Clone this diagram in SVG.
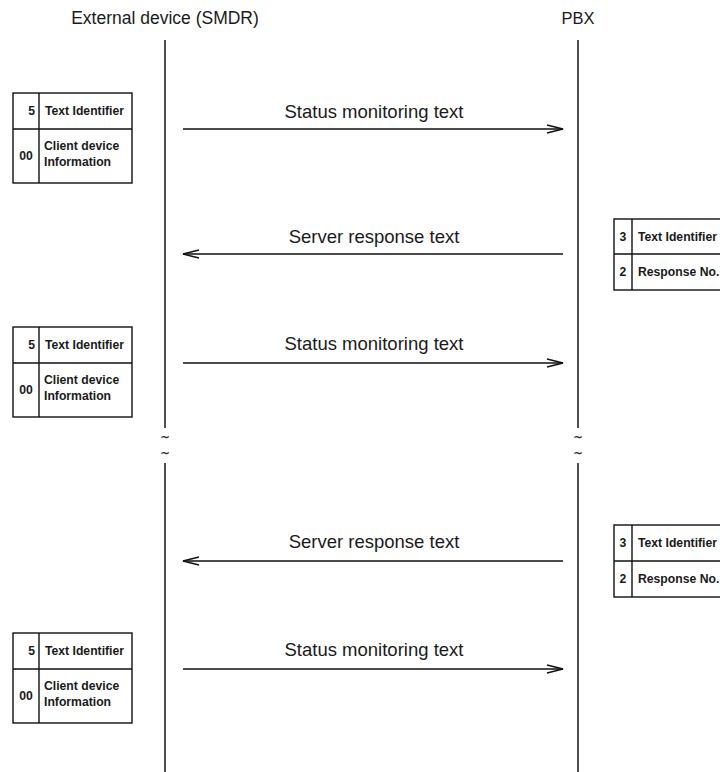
<svg xmlns="http://www.w3.org/2000/svg" width="720" height="772" viewBox="0 0 720 772">
<style>
.hdr{font-family:"Liberation Sans",Arial,sans-serif;font-size:17.5px;fill:#1a1a1a}
.pbx{font-family:"Liberation Sans",Arial,sans-serif;font-size:16.5px;fill:#1a1a1a}
.lbl{font-family:"Liberation Sans",Arial,sans-serif;font-size:18.5px;fill:#1a1a1a}
.cell{font-family:"Liberation Sans",Arial,sans-serif;font-size:12.2px;font-weight:bold;fill:#1a1a1a}
.brk{font-family:"DejaVu Sans",sans-serif;font-size:12px;font-weight:bold;fill:#333}
.box{fill:#fff;stroke:#111;stroke-width:1.4}
.ln{stroke:#111;stroke-width:1.4;fill:none}
.life{stroke:#222;stroke-width:1.6;fill:none}
.msg{stroke:#111;stroke-width:1.4;fill:none}
</style>
<rect width="720" height="772" fill="#fff"/>
<g id="lifeline-external">
<text class="hdr" x="165" y="24" text-anchor="middle">External device (SMDR)</text>
<line class="life" x1="165" y1="40" x2="165" y2="428"/>
<text class="brk" x="165" y="441" text-anchor="middle">~</text>
<text class="brk" x="165" y="457" text-anchor="middle">~</text>
<line class="life" x1="165" y1="463" x2="165" y2="772"/>
</g>
<g id="lifeline-pbx">
<text class="pbx" x="578" y="24" text-anchor="middle">PBX</text>
<line class="life" x1="578" y1="40" x2="578" y2="428"/>
<text class="brk" x="578" y="441" text-anchor="middle">~</text>
<text class="brk" x="578" y="457" text-anchor="middle">~</text>
<line class="life" x1="578" y1="463" x2="578" y2="772"/>
</g>
<g id="table-client-1">
<rect class="box" x="13" y="93" width="119" height="90"/>
<line class="ln" x1="39" y1="93" x2="39" y2="183"/>
<line class="ln" x1="13" y1="129" x2="132" y2="129"/>
<text class="cell" x="35" y="115" text-anchor="end">5</text>
<text class="cell" x="45" y="115">Text Identifier</text>
<text class="cell" x="26" y="160" text-anchor="middle">00</text>
<text class="cell" x="44" y="150">Client device</text>
<text class="cell" x="44" y="166">Information</text>
</g>
<g id="table-server-1">
<rect class="box" x="614" y="219" width="116" height="71"/>
<line class="ln" x1="632" y1="219" x2="632" y2="290"/>
<line class="ln" x1="614" y1="254" x2="730" y2="254"/>
<text class="cell" x="623" y="241" text-anchor="middle">3</text>
<text class="cell" x="638" y="241">Text Identifier</text>
<text class="cell" x="623" y="276" text-anchor="middle">2</text>
<text class="cell" x="638" y="276">Response No.</text>
</g>
<g id="table-client-2">
<rect class="box" x="13" y="327" width="119" height="90"/>
<line class="ln" x1="39" y1="327" x2="39" y2="417"/>
<line class="ln" x1="13" y1="363" x2="132" y2="363"/>
<text class="cell" x="35" y="349" text-anchor="end">5</text>
<text class="cell" x="45" y="349">Text Identifier</text>
<text class="cell" x="26" y="394" text-anchor="middle">00</text>
<text class="cell" x="44" y="384">Client device</text>
<text class="cell" x="44" y="400">Information</text>
</g>
<g id="table-server-2">
<rect class="box" x="614" y="525" width="116" height="72"/>
<line class="ln" x1="632" y1="525" x2="632" y2="597"/>
<line class="ln" x1="614" y1="561" x2="730" y2="561"/>
<text class="cell" x="623" y="547" text-anchor="middle">3</text>
<text class="cell" x="638" y="547">Text Identifier</text>
<text class="cell" x="623" y="583" text-anchor="middle">2</text>
<text class="cell" x="638" y="583">Response No.</text>
</g>
<g id="table-client-3">
<rect class="box" x="13" y="633" width="119" height="90"/>
<line class="ln" x1="39" y1="633" x2="39" y2="723"/>
<line class="ln" x1="13" y1="669" x2="132" y2="669"/>
<text class="cell" x="35" y="655" text-anchor="end">5</text>
<text class="cell" x="45" y="655">Text Identifier</text>
<text class="cell" x="26" y="700" text-anchor="middle">00</text>
<text class="cell" x="44" y="690">Client device</text>
<text class="cell" x="44" y="706">Information</text>
</g>
<g id="connectors">
<line class="msg" x1="183" y1="129" x2="563" y2="129"/>
<polyline class="msg" points="547,125 563,129 547,133"/>
<text class="lbl" x="374" y="118" text-anchor="middle">Status monitoring text</text>
<line class="msg" x1="563" y1="254" x2="183" y2="254"/>
<polyline class="msg" points="199,250 183,254 199,258"/>
<text class="lbl" x="374" y="243" text-anchor="middle">Server response text</text>
<line class="msg" x1="183" y1="363" x2="563" y2="363"/>
<polyline class="msg" points="547,359 563,363 547,367"/>
<text class="lbl" x="374" y="350" text-anchor="middle">Status monitoring text</text>
<line class="msg" x1="563" y1="561" x2="183" y2="561"/>
<polyline class="msg" points="199,557 183,561 199,565"/>
<text class="lbl" x="374" y="548" text-anchor="middle">Server response text</text>
<line class="msg" x1="183" y1="669" x2="563" y2="669"/>
<polyline class="msg" points="547,665 563,669 547,673"/>
<text class="lbl" x="374" y="656" text-anchor="middle">Status monitoring text</text>
</g>
</svg>
